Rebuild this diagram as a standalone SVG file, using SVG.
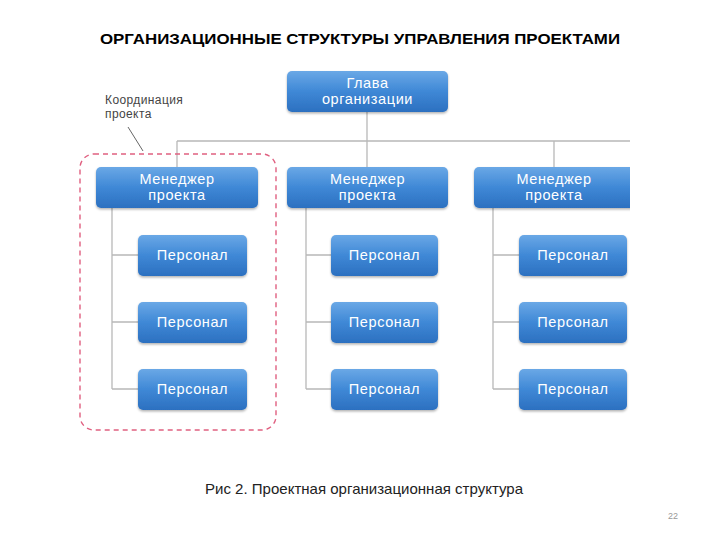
<svg xmlns="http://www.w3.org/2000/svg" width="720" height="540" viewBox="0 0 720 540">
<defs>
<linearGradient id="bg" x1="0" y1="0" x2="0" y2="1">
<stop offset="0" stop-color="#6aa8e6"/>
<stop offset="0.5" stop-color="#3f88d6"/>
<stop offset="1" stop-color="#2c70c0"/>
</linearGradient>
<clipPath id="pg"><rect x="0" y="0" width="630" height="540"/></clipPath>
<filter id="sh" x="-10%" y="-10%" width="120%" height="140%">
<feDropShadow dx="0" dy="1.5" stdDeviation="1.2" flood-color="#000" flood-opacity="0.3"/>
</filter>
</defs>
<style>
.box{fill:url(#bg);filter:url(#sh)}
.bt{font-family:"Liberation Sans",Arial,sans-serif;font-size:14.5px;letter-spacing:0.6px;fill:#fff;text-anchor:middle}
.ln{stroke:#b8b8b8;stroke-width:1.3;fill:none}
.lb{font-family:"Liberation Sans",Arial,sans-serif;font-size:12px;letter-spacing:0.4px;fill:#444}
</style>
<rect width="720" height="540" fill="#fff"/>
<text x="100" y="44" textLength="520" lengthAdjust="spacingAndGlyphs" font-family="Liberation Sans,Arial,sans-serif" font-weight="bold" font-size="15.5" fill="#000">ОРГАНИЗАЦИОННЫЕ СТРУКТУРЫ УПРАВЛЕНИЯ ПРОЕКТАМИ</text>
<g id="connectors" clip-path="url(#pg)">
<path class="ln" d="M367 112 V168 M177 141 H640 M177 141 V168 M554 141 V168"/>
<path class="ln" d="M112 208 V389 M112 255 H139 M112 322 H139 M112 389 H139"/>
<path class="ln" d="M306 208 V389 M306 255 H332 M306 322 H332 M306 389 H332"/>
<path class="ln" d="M493 208 V389 M493 255 H519 M493 322 H519 M493 389 H519"/>
<path d="M128 127 L143 151" stroke="#666" stroke-width="1" fill="none"/>
</g>
<g id="coordination">
<rect x="80" y="154" width="196" height="276" rx="14" fill="none" stroke="#e06080" stroke-width="1.4" stroke-dasharray="5,4"/>
<text class="lb" x="105" y="104">Координация</text>
<text class="lb" x="105" y="118">проекта</text>
</g>
<g id="head"><rect class="box" x="287" y="71" width="161" height="41" rx="5"/><text class="bt" x="367.500" y="88">Глава</text><text class="bt" x="367.500" y="104">организации</text></g>
<g id="m1"><rect class="box" x="96" y="167" width="162" height="41" rx="5"/><text class="bt" x="177" y="184">Менеджер</text><text class="bt" x="177" y="200">проекта</text></g>
<g id="m2"><rect class="box" x="287" y="167" width="161" height="41" rx="5"/><text class="bt" x="367.500" y="184">Менеджер</text><text class="bt" x="367.500" y="200">проекта</text></g>
<g id="m3" clip-path="url(#pg)"><rect class="box" x="474" y="167" width="166" height="41" rx="5"/><text class="bt" x="554" y="184">Менеджер</text><text class="bt" x="554" y="200">проекта</text></g>
<g id="p11"><rect class="box" x="138" y="235" width="109" height="41" rx="5"/><text class="bt" x="192.500" y="260">Персонал</text></g>
<g id="p12"><rect class="box" x="138" y="302" width="109" height="41" rx="5"/><text class="bt" x="192.500" y="327">Персонал</text></g>
<g id="p13"><rect class="box" x="138" y="369" width="109" height="41" rx="5"/><text class="bt" x="192.500" y="394">Персонал</text></g>
<g id="p21"><rect class="box" x="331" y="235" width="107" height="41" rx="5"/><text class="bt" x="384.500" y="260">Персонал</text></g>
<g id="p22"><rect class="box" x="331" y="302" width="107" height="41" rx="5"/><text class="bt" x="384.500" y="327">Персонал</text></g>
<g id="p23"><rect class="box" x="331" y="369" width="107" height="41" rx="5"/><text class="bt" x="384.500" y="394">Персонал</text></g>
<g id="p31"><rect class="box" x="519" y="235" width="108" height="41" rx="5"/><text class="bt" x="573" y="260">Персонал</text></g>
<g id="p32"><rect class="box" x="519" y="302" width="108" height="41" rx="5"/><text class="bt" x="573" y="327">Персонал</text></g>
<g id="p33"><rect class="box" x="519" y="369" width="108" height="41" rx="5"/><text class="bt" x="573" y="394">Персонал</text></g>
<text x="205" y="494" textLength="318" lengthAdjust="spacingAndGlyphs" font-family="Liberation Sans,Arial,sans-serif" font-size="14.5" fill="#222">Рис 2. Проектная организационная структура</text>
<text x="668" y="519" font-family="Liberation Sans,Arial,sans-serif" font-size="9" fill="#999">22</text>
</svg>
